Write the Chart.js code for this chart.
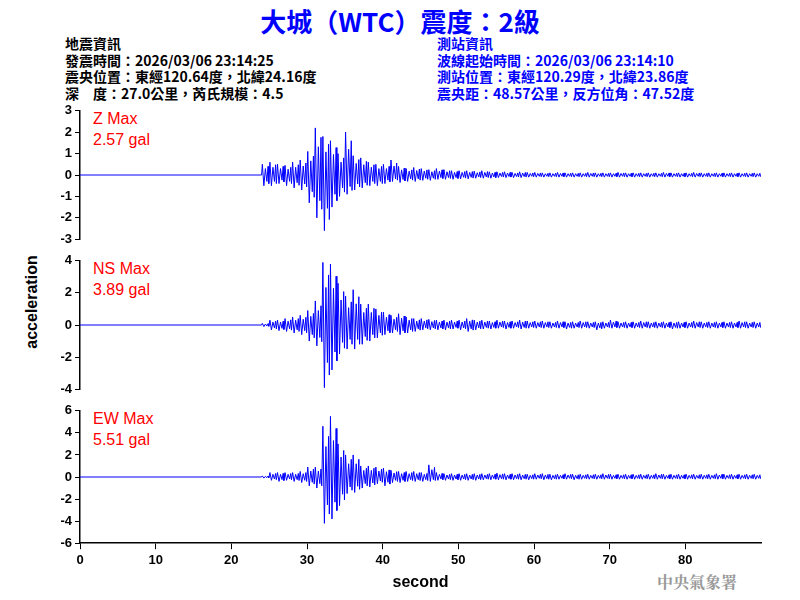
<!DOCTYPE html>
<html><head><meta charset="utf-8">
<script src="https://cdn.jsdelivr.net/npm/chart.js@4/dist/chart.umd.min.js"></script>
<style>
body{margin:0;width:800px;height:600px;background:#fff;position:relative;overflow:hidden;font-family:"Liberation Sans",Arial,sans-serif}
.abs{position:absolute;white-space:nowrap}
canvas{position:absolute;left:0}
.info{font-family:"Noto Sans CJK TC",sans-serif;font-weight:bold;font-size:14px;line-height:16.5px}
.lab{color:#ff0000;font-size:16px;line-height:21px;font-family:"Liberation Sans",Arial,sans-serif}
</style></head><body>
<div class="abs" style="left:0;width:800px;top:2px;text-align:center;color:#0000ff;font-size:26px;font-weight:bold;font-family:'Noto Sans CJK TC',sans-serif">大城（WTC）震度：2級</div>
<div class="abs info" style="left:65px;top:35px;color:#000">地震資訊<br>發震時間：2026/03/06 23:14:25<br>震央位置：東經120.64度，北緯24.16度<br>深　度：27.0公里，芮氏規模：4.5</div>
<div class="abs info" style="left:437px;top:35px;color:#0000ff">測站資訊<br>波線起始時間：2026/03/06 23:14:10<br>測站位置：東經120.29度，北緯23.86度<br>震央距：48.57公里，反方位角：47.52度</div>
<div class="abs lab" style="left:93px;top:108px">Z Max<br>2.57 gal</div>
<div class="abs lab" style="left:93px;top:258px">NS Max<br>3.89 gal</div>
<div class="abs lab" style="left:93px;top:408px">EW Max<br>5.51 gal</div>
<div class="abs" style="left:32px;top:302px;transform:translate(-50%,-50%) rotate(-90deg);font-size:16px;font-weight:bold">acceleration</div>
<div class="abs" style="left:657px;top:570px;color:#999;font-size:16px;font-weight:bold;font-family:'Noto Serif CJK TC','Noto Sans CJK TC',serif">中央氣象署</div>
<canvas id="cz" width="800" height="150" style="top:100px;width:800px;height:150px"></canvas>
<canvas id="cn" width="800" height="150" style="top:250px;width:800px;height:150px"></canvas>
<canvas id="ce" width="800" height="200" style="top:400px;width:800px;height:200px"></canvas>
<script>
// seconds 24..89, per-second envelope (gal)
const startSec = 24;
const zMax = [0.5,0.6,0.5,0.45,0.6,0.7,1.1,2.2,1.8,1.6,1.0,2.0,0.9,0.8,0.6,0.5,0.5,0.7,0.4,0.3,0.35,0.3,0.25,0.3,0.25,0.2,0.2,0.2,0.18,0.2,0.15,0.15,0.15,0.12,0.15,0.12,0.12,0.1,0.1,0.12,0.1,0.1,0.1,0.12,0.1,0.1,0.1,0.12,0.1,0.1,0.1,0.1,0.1,0.12,0.1,0.1,0.1,0.12,0.1,0.1,0.1,0.1,0.1,0.1,0.1,0.1];
const zMin = [-0.5,-0.5,-0.4,-0.5,-0.6,-0.7,-1.3,-2.0,-2.6,-1.5,-1.0,-0.9,-0.7,-0.6,-0.5,-0.5,-0.4,-0.3,-0.35,-0.3,-0.3,-0.25,-0.25,-0.2,-0.2,-0.2,-0.18,-0.18,-0.15,-0.15,-0.15,-0.12,-0.12,-0.12,-0.12,-0.1,-0.1,-0.1,-0.1,-0.1,-0.1,-0.1,-0.1,-0.1,-0.1,-0.1,-0.1,-0.1,-0.1,-0.1,-0.1,-0.1,-0.1,-0.1,-0.1,-0.1,-0.1,-0.1,-0.1,-0.1,-0.1,-0.1,-0.1,-0.1,-0.1,-0.1];
const nMax = [0.1,0.3,0.3,0.4,0.5,0.6,0.9,1.5,3.9,3.8,2.6,1.8,2.2,1.3,1.3,1.0,0.8,0.6,0.7,0.5,0.4,0.4,0.35,0.3,0.3,0.3,0.3,0.4,0.3,0.3,0.25,0.3,0.25,0.25,0.3,0.25,0.25,0.25,0.2,0.25,0.2,0.2,0.25,0.2,0.2,0.2,0.3,0.2,0.2,0.2,0.25,0.2,0.2,0.2,0.2,0.2,0.2,0.25,0.2,0.2,0.2,0.2,0.2,0.25,0.2,0.2];
const nMin = [-0.1,-0.3,-0.35,-0.4,-0.5,-0.6,-1.0,-1.3,-3.9,-2.8,-1.8,-1.5,-1.5,-1.2,-1.0,-0.8,-0.6,-0.5,-0.6,-0.5,-0.4,-0.3,-0.3,-0.3,-0.3,-0.25,-0.3,-0.4,-0.3,-0.25,-0.25,-0.2,-0.25,-0.2,-0.25,-0.2,-0.2,-0.2,-0.2,-0.2,-0.25,-0.2,-0.2,-0.2,-0.3,-0.2,-0.2,-0.2,-0.2,-0.2,-0.2,-0.2,-0.2,-0.2,-0.25,-0.2,-0.2,-0.2,-0.2,-0.2,-0.2,-0.2,-0.2,-0.2,-0.2,-0.2];
const eMax = [0.1,0.4,0.4,0.4,0.4,0.5,0.9,0.9,4.6,5.5,3.0,2.0,2.0,1.0,1.0,0.9,0.8,0.6,0.5,0.5,0.5,0.4,1.1,0.4,0.3,0.3,0.3,0.3,0.3,0.3,0.3,0.35,0.3,0.3,0.3,0.25,0.3,0.3,0.25,0.25,0.3,0.25,0.25,0.25,0.25,0.3,0.25,0.25,0.25,0.25,0.25,0.25,0.3,0.25,0.25,0.25,0.25,0.25,0.25,0.25,0.3,0.25,0.25,0.25,0.25,0.25];
const eMin = [-0.1,-0.3,-0.4,-0.3,-0.4,-0.5,-0.8,-1.0,-4.2,-3.8,-2.6,-1.5,-1.4,-1.0,-0.9,-0.6,-0.8,-0.5,-0.5,-0.4,-0.4,-0.4,-0.4,-0.3,-0.3,-0.3,-0.3,-0.3,-0.3,-0.25,-0.25,-0.25,-0.25,-0.25,-0.25,-0.25,-0.2,-0.25,-0.25,-0.2,-0.2,-0.25,-0.2,-0.2,-0.2,-0.2,-0.2,-0.2,-0.2,-0.2,-0.2,-0.2,-0.2,-0.2,-0.2,-0.2,-0.2,-0.2,-0.2,-0.2,-0.2,-0.2,-0.2,-0.2,-0.2,-0.2];
const xTicks = [0,10,20,30,40,50,60,70,80];

function wave(mx, mn){
  const pts=[{x:0,y:0},{x:startSec,y:0}];
  mx.forEach((v,i)=>{const t=startSec+i;
    pts.push({x:t+0.1,y:v},{x:t+0.3,y:mn[i]},{x:t+0.5,y:v*0.6},{x:t+0.7,y:mn[i]*0.6},{x:t+0.85,y:v*0.8},{x:t+0.95,y:mn[i]*0.8});});
  return pts;
}
const F={family:"'Liberation Sans',Arial,sans-serif",size:13,weight:'bold'};
function mk(id, mx, mn, lim, step, showX){
  new Chart(document.getElementById(id),{type:'line',
    data:{datasets:[{data:wave(mx,mn),borderColor:'#0000ff',borderWidth:1,pointRadius:0,tension:0}]},
    options:{responsive:false,animation:false,events:[],
      layout:{padding:{right:39,top:0,bottom:showX?4:0}},
      plugins:{legend:{display:false},tooltip:{enabled:false}},
      scales:{
        x:{type:'linear',min:0,max:90,display:showX,
          afterBuildTicks:s=>{s.ticks=xTicks.map(v=>({value:v}));},
          grid:{drawOnChartArea:false,color:'#000',tickLength:6},border:{color:'#000',width:1.5},
          ticks:{color:'#000',font:F,maxRotation:0},
          title:{display:true,text:'second',color:'#000',font:{...F,size:16},padding:{top:2}}},
        y:{min:-lim,max:lim,afterFit:s=>{s.width=80;},
          grid:{drawOnChartArea:false,color:'#000',tickLength:5},border:{color:'#000',width:1.5},
          ticks:{stepSize:step,color:'#000',font:F,padding:3}}}}});
}
mk('cz',zMax,zMin,3,1,false);
mk('cn',nMax,nMin,4,2,false);
mk('ce',eMax,eMin,6,2,true);
</script></body></html>
